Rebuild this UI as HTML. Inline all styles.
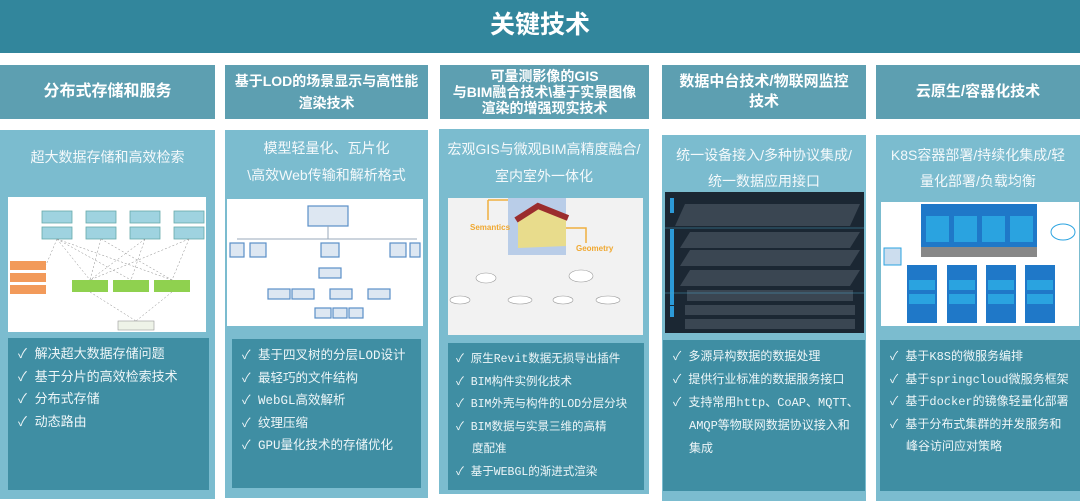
<!DOCTYPE html>
<html><head><meta charset="utf-8">
<style>
*{margin:0;padding:0;box-sizing:border-box}
body{width:1080px;height:501px;background:#fff;position:relative;overflow:hidden;font-family:"Liberation Sans","Noto Sans CJK SC",sans-serif;color:#fff}
.a{position:absolute}
.title{left:0;top:0;width:1080px;height:53px;background:#32869c;font-size:25px;font-weight:bold;text-align:center;line-height:50px}
.hd{background:#5d9fb1;font-weight:bold;text-align:center;display:flex;align-items:center;justify-content:center;font-size:15px;line-height:20px}
.bd{background:#7bbccf}
.sub{font-size:14px;text-align:center;line-height:34px;color:#f4f9fb}
.ls{background:#3f8ea3;font-family:"Liberation Mono","WenQuanYi Zen Hei","Noto Sans CJK SC",monospace;font-size:12px;line-height:22.5px;padding:6px 0 0 10px;color:#eef6f8;white-space:nowrap;overflow:hidden}
.ls .in{padding-left:16px}
</style></head><body>
<div class="a title">关键技术</div>

<div class="a hd" style="left:0;top:65px;width:215px;height:54px;font-size:16px">分布式存储和服务</div>
<div class="a hd" style="left:225px;top:65px;width:203px;height:54px;font-size:14px;line-height:22px">基于LOD的场景显示与高性能<br>渲染技术</div>
<div class="a hd" style="left:440px;top:65px;width:209px;height:54px;line-height:16px;font-size:14px">可量测影像的GIS<br>与BIM融合技术\基于实景图像<br>渲染的增强现实技术</div>
<div class="a hd" style="left:662px;top:65px;width:204px;height:54px">数据中台技术/物联网监控<br>技术</div>
<div class="a hd" style="left:876px;top:65px;width:204px;height:54px">云原生/容器化技术</div>

<div class="a bd" style="left:0;top:130px;width:215px;height:369px"></div>
<div class="a bd" style="left:225px;top:130px;width:203px;height:368px"></div>
<div class="a bd" style="left:439px;top:129px;width:210px;height:365px"></div>
<div class="a bd" style="left:662px;top:135px;width:204px;height:366px"></div>
<div class="a bd" style="left:876px;top:135px;width:204px;height:366px"></div>

<div class="a sub" style="left:0;top:140px;width:215px">超大数据存储和高效检索</div>
<div class="a sub" style="left:225px;top:135px;width:203px;line-height:27px">模型轻量化、瓦片化<br>\高效Web传输和解析格式</div>
<div class="a sub" style="left:439px;top:136px;width:210px;line-height:27px">宏观GIS与微观BIM高精度融合/<br>室内室外一体化</div>
<div class="a sub" style="left:662px;top:142px;width:204px;line-height:26px">统一设备接入/多种协议集成/<br>统一数据应用接口</div>
<div class="a sub" style="left:876px;top:142px;width:204px;line-height:26px">K8S容器部署/持续化集成/轻<br>量化部署/负载均衡</div>

<!-- images -->
<svg class="a" style="left:8px;top:197px" width="198" height="135" viewBox="0 0 198 135">
<rect width="198" height="135" fill="#fff"/>
<g fill="#9fd3e0" stroke="#6aa" stroke-width=".8">
<rect x="34" y="14" width="30" height="12"/><rect x="78" y="14" width="30" height="12"/><rect x="122" y="14" width="30" height="12"/><rect x="166" y="14" width="30" height="12"/>
<rect x="34" y="30" width="30" height="12"/><rect x="78" y="30" width="30" height="12"/><rect x="122" y="30" width="30" height="12"/><rect x="166" y="30" width="30" height="12"/></g>
<g fill="#8fd14f"><rect x="64" y="83" width="36" height="12"/><rect x="105" y="83" width="36" height="12"/><rect x="146" y="83" width="36" height="12"/></g>
<g fill="#f29a5a"><rect x="2" y="64" width="36" height="9"/><rect x="2" y="76" width="36" height="9"/><rect x="2" y="88" width="36" height="9"/></g>
<rect x="110" y="124" width="36" height="9" fill="#eef3e8" stroke="#999" stroke-width=".6"/>
<g stroke="#888" stroke-width=".5" stroke-dasharray="2 2"><path d="M49 42L82 83M49 42L123 83M49 42L164 83M93 42L82 83M93 42L164 83M137 42L82 83M137 42L123 83M181 42L82 83M181 42L164 83M82 95L128 124M164 95L128 124M49 42L38 68"/></g>
</svg>
<svg class="a" style="left:227px;top:199px" width="196" height="127" viewBox="0 0 196 127">
<rect width="196" height="127" fill="#fff"/>
<g fill="#dde7f2" stroke="#5b8fc7" stroke-width="1.2">
<rect x="81" y="7" width="40" height="20"/><rect x="3" y="44" width="14" height="14"/><rect x="23" y="44" width="16" height="14"/><rect x="94" y="44" width="18" height="14"/><rect x="163" y="44" width="16" height="14"/><rect x="183" y="44" width="10" height="14"/>
<rect x="92" y="69" width="22" height="10"/><rect x="41" y="90" width="22" height="10"/><rect x="65" y="90" width="22" height="10"/><rect x="103" y="90" width="22" height="10"/><rect x="141" y="90" width="22" height="10"/>
<rect x="88" y="109" width="16" height="10"/><rect x="106" y="109" width="14" height="10"/><rect x="122" y="109" width="14" height="10"/></g>
<path d="M10 40H190M101 27V40" stroke="#9ab" fill="none"/>
</svg>
<svg class="a" style="left:448px;top:198px" width="195" height="137" viewBox="0 0 195 137">
<rect width="195" height="137" fill="#f2f2f2"/>
<rect x="60" y="0" width="58" height="57" fill="#b9cde8"/>
<path d="M70 20L90 10L118 20L118 48L70 50Z" fill="#e8dc8c"/><path d="M68 22L90 8L120 20" fill="none" stroke="#9b2d2d" stroke-width="6"/>
<path d="M40 2H60M40 2V22M118 30H138V45" stroke="#f0b040" fill="none" stroke-width="1.5"/>
<text x="22" y="32" font-size="8" fill="#f0a830" font-weight="bold">Semantics</text>
<text x="128" y="53" font-size="8" fill="#f0a830" font-weight="bold">Geometry</text>
<g fill="#fff" stroke="#999" stroke-width=".6"><ellipse cx="38" cy="80" rx="10" ry="5"/><ellipse cx="133" cy="78" rx="12" ry="6"/><ellipse cx="12" cy="102" rx="10" ry="4"/><ellipse cx="72" cy="102" rx="12" ry="4"/><ellipse cx="115" cy="102" rx="10" ry="4"/><ellipse cx="160" cy="102" rx="12" ry="4"/></g>
</svg>
<svg class="a" style="left:665px;top:192px" width="199" height="141" viewBox="0 0 199 141">
<rect width="199" height="141" fill="#1b2733"/>
<g fill="#3a4652"><path d="M20 12H195L185 34H10Z"/><path d="M25 40H195L185 56H15Z"/><path d="M25 58H195L185 74H15Z"/><path d="M25 78H195L185 94H15Z"/><rect x="20" y="113" width="170" height="10"/><rect x="20" y="127" width="170" height="10"/><rect x="22" y="98" width="166" height="11"/></g>
<g fill="#2c9ad8"><rect x="5" y="6" width="4" height="15"/><rect x="5" y="37" width="4" height="76"/><rect x="5" y="114" width="4" height="11"/></g>
<path d="M0 36H199M0 101H199" stroke="#4a9fc0" stroke-width=".6"/>
</svg>
<svg class="a" style="left:881px;top:202px" width="198" height="124" viewBox="0 0 198 124">
<rect width="198" height="124" fill="#fff"/>
<rect x="40" y="2" width="116" height="50" fill="#1f78c8"/><rect x="40" y="45" width="116" height="10" fill="#888"/>
<g fill="#2aa3e0"><rect x="45" y="14" width="23" height="26"/><rect x="73" y="14" width="23" height="26"/><rect x="101" y="14" width="23" height="26"/><rect x="129" y="14" width="23" height="26"/></g>
<g fill="#1f78c8"><rect x="26" y="63" width="30" height="58"/><rect x="66" y="63" width="30" height="58"/><rect x="105" y="63" width="30" height="58"/><rect x="144" y="63" width="30" height="58"/></g>
<g fill="#2aa3e0"><rect x="28" y="78" width="26" height="10"/><rect x="68" y="78" width="26" height="10"/><rect x="107" y="78" width="26" height="10"/><rect x="146" y="78" width="26" height="10"/><rect x="28" y="92" width="26" height="10"/><rect x="68" y="92" width="26" height="10"/><rect x="107" y="92" width="26" height="10"/><rect x="146" y="92" width="26" height="10"/></g>
<rect x="3" y="46" width="17" height="17" fill="#cde" stroke="#2aa3e0"/><ellipse cx="182" cy="30" rx="12" ry="8" fill="#fff" stroke="#2aa3e0"/>
</svg>

<!-- lists -->
<div class="a ls" style="left:8px;top:338px;width:201px;height:152px;font-size:13px">
<div>✓ 解决超大数据存储问题</div><div>✓ 基于分片的高效检索技术</div><div>✓ 分布式存储</div><div>✓ 动态路由</div></div>
<div class="a ls" style="left:232px;top:339px;width:189px;height:149px;font-size:12.5px">
<div>✓ 基于四叉树的分层LOD设计</div><div>✓ 最轻巧的文件结构</div><div>✓ WebGL高效解析</div><div>✓ 纹理压缩</div><div>✓ GPU量化技术的存储优化</div></div>
<div class="a ls" style="left:448px;top:343px;width:196px;height:147px;padding-left:8px;font-size:11.5px">
<div>✓ 原生Revit数据无损导出插件</div><div>✓ BIM构件实例化技术</div><div>✓ BIM外壳与构件的LOD分层分块</div><div>✓ BIM数据与实景三维的高精</div><div class="in">度配准</div><div>✓ 基于WEBGL的渐进式渲染</div></div>
<div class="a ls" style="left:663px;top:340px;width:202px;height:151px;font-size:12px;line-height:23px">
<div>✓ 多源异构数据的数据处理</div><div>✓ 提供行业标准的数据服务接口</div><div>✓ 支持常用http、CoAP、MQTT、</div><div class="in">AMQP等物联网数据协议接入和</div><div class="in">集成</div></div>
<div class="a ls" style="left:880px;top:340px;width:200px;height:151px;font-size:12px">
<div>✓ 基于K8S的微服务编排</div><div>✓ 基于springcloud微服务框架</div><div>✓ 基于docker的镜像轻量化部署</div><div>✓ 基于分布式集群的并发服务和</div><div class="in">峰谷访问应对策略</div></div>
</body></html>
